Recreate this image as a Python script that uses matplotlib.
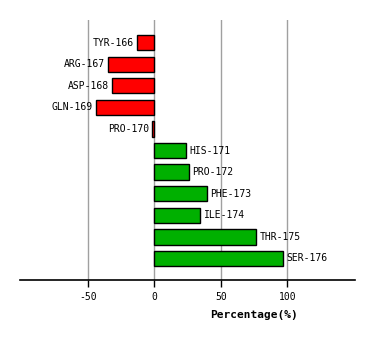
import numpy as np
import matplotlib
matplotlib.use("Agg")
import matplotlib.pyplot as plt

residues = ["TYR-166", "ARG-167", "ASP-168", "GLN-169", "PRO-170", "HIS-171",
            "PRO-172", "PHE-173", "ILE-174", "THR-175", "SER-176"]
values = [-12.8, -34.7, -31.7, -43.7, -1.6, 23.9, 26.2, 39.7, 34.7, 76.5, 97.1]
xticks = [-50, 0, 50, 100]

fig = plt.figure(figsize=(3.74, 3.40), dpi=100)
ax = fig.add_axes([20 / 374, 1 - 280 / 340, 335 / 374, 260 / 340])

pos = np.arange(len(values))
colors = ["#ff0000" if v < 0 else "#00b000" for v in values]
ax.barh(pos, values, height=0.71, color=colors, edgecolor="black", linewidth=1, zorder=3)

for i, v in enumerate(values):
    if v < 0:
        ax.text(v - 2.5, i, residues[i], ha="right", va="center",
                family="DejaVu Sans Mono", fontsize=7)
    else:
        ax.text(v + 2.5, i, residues[i], ha="left", va="center",
                family="DejaVu Sans Mono", fontsize=7)

ax.set_xlim(-101, 151)
ax.set_ylim(11, -1.05)
ax.set_xticks(xticks)
ax.set_xticklabels([str(t) for t in xticks], family="DejaVu Sans Mono", fontsize=7)
ax.set_yticks([])
ax.grid(axis="x", color="#a0a0a0", linewidth=1, zorder=0)
for s in ["left", "right", "top"]:
    ax.spines[s].set_visible(False)
ax.spines["bottom"].set_linewidth(1.2)
ax.tick_params(axis="x", length=5, width=1, pad=4)

ax.set_xlabel("Percentage(%)", family="DejaVu Sans Mono", fontsize=8, fontweight="bold")
ax.xaxis.set_label_coords((254 - 20) / 335, -0.115)

fig.savefig("out.png", dpi=100)
